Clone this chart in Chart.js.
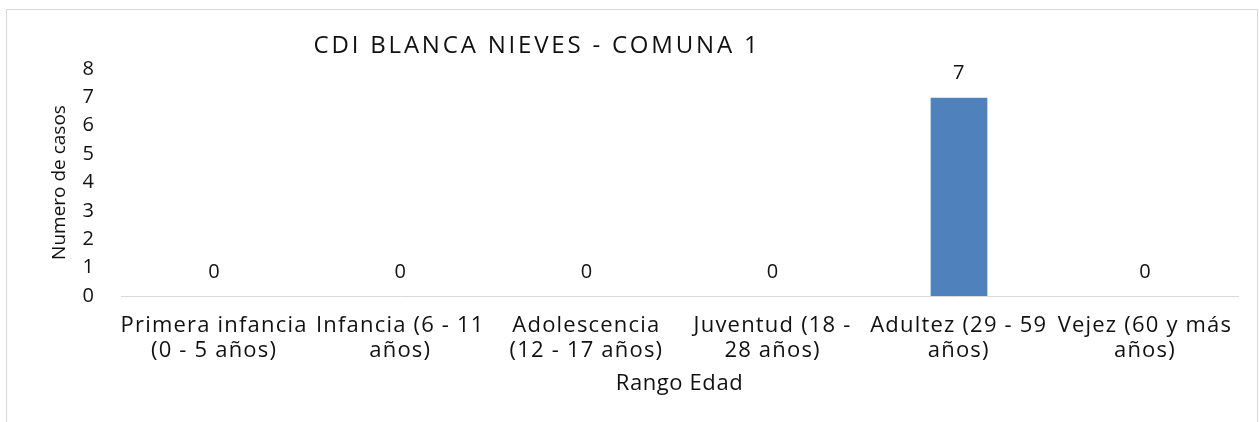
<!DOCTYPE html>
<html>
<head>
<meta charset="utf-8">
<script src="https://cdn.jsdelivr.net/npm/chart.js@4.4.0/dist/chart.umd.min.js"></script>
<style>
    html, body { margin: 0; padding: 0; background: #fff; }
    #wrap { width: 1259px; height: 422px; }
</style>
</head>
<body>
<div id="wrap"><canvas id="myChart" width="1259" height="422"></canvas></div>
<script>
var chartTitle = 'CDI BLANCA NIEVES - COMUNA 1';
var rangos = [
    ['Primera infancia', '(0 - 5 años)'],
    ['Infancia (6 - 11', 'años)'],
    ['Adolescencia', '(12 - 17 años)'],
    ['Juventud (18 -', '28 años)'],
    ['Adultez (29 - 59', 'años)'],
    ['Vejez (60 y más', 'años)']
];
var casos = [0, 0, 0, 0, 7, 0];
var yTicks = [0, 1, 2, 3, 4, 5, 6, 7, 8];

var fontName = "'Open Sans', 'DejaVu Sans', sans-serif";
var textColor = '#111111';

// excel text is wider than open sans, so spread some of the scale texts a bit
function addSpacing(scale, labelSp, titleSp) {
    if (scale._spacingDone) return;
    scale._spacingDone = true;
    var drawLabels = scale.drawLabels;
    var drawTitle = scale.drawTitle;
    scale.drawLabels = function (area) {
        this.ctx.letterSpacing = labelSp;
        drawLabels.call(this, area);
        this.ctx.letterSpacing = '0px';
    };
    scale.drawTitle = function () {
        this.ctx.letterSpacing = titleSp;
        drawTitle.call(this);
        this.ctx.letterSpacing = '0px';
    };
}

// frame around the chart + title
var framePlugin = {
    id: 'frame',
    beforeDraw: function (chart) {
        var ctx = chart.ctx;
        ctx.save();
        ctx.fillStyle = '#fff';
        ctx.fillRect(0, 0, chart.width, chart.height);
        ctx.strokeStyle = '#d9d9d9';
        ctx.lineWidth = 1;
        ctx.strokeRect(6.5, 9.5, 1251, 425);
        ctx.restore();
    },
    afterDraw: function (chart) {
        var ctx = chart.ctx;
        ctx.save();
        ctx.letterSpacing = '2.8px';
        ctx.font = '24px ' + fontName;
        ctx.fillStyle = textColor;
        ctx.textAlign = 'center';
        ctx.textBaseline = 'alphabetic';
        ctx.fillText(chartTitle, 537, 53);
        ctx.restore();
    }
};

// value labels above each bar
var valuePlugin = {
    id: 'values',
    afterDatasetsDraw: function (chart) {
        var ctx = chart.ctx;
        var meta = chart.getDatasetMeta(0);
        ctx.save();
        ctx.font = '20px ' + fontName;
        ctx.fillStyle = textColor;
        ctx.textAlign = 'center';
        ctx.textBaseline = 'middle';
        meta.data.forEach(function (bar, i) {
            ctx.fillText(String(casos[i]), bar.x, bar.y - 24);
        });
        ctx.restore();
    }
};

var ctx = document.getElementById('myChart');

var data = {
    labels: rangos,
    datasets: [{
        label: 'Numero de casos',
        data: casos,
        backgroundColor: '#4f81bd',
        borderColor: '#c9d7ea',
        borderWidth: { left: 1, right: 0, top: 0, bottom: 0 },
        barPercentage: 0.31,
        categoryPercentage: 1.0
    }]
};

var option = {
    responsive: false,
    animation: false,
    layout: {
        padding: { left: 0, right: 21, top: 69, bottom: 0 }
    },
    plugins: {
        legend: { display: false },
        title: { display: false },
        tooltip: { enabled: false }
    },
    scales: {
        x: {
            grid: { display: false },
            border: { display: true, color: '#d9d9d9', width: 1 },
            ticks: {
                color: textColor,
                font: { family: fontName, size: 22, lineHeight: '25px' },
                padding: 9,
                maxRotation: 0,
                autoSkip: false
            },
            title: {
                display: true,
                text: 'Rango Edad',
                color: textColor,
                font: { family: fontName, size: 22 },
                padding: { top: 0, bottom: 25 }
            },
            afterFit: function (scale) {
                scale.height = 126;
                addSpacing(scale, '1.2px', '0.6px');
            }
        },
        y: {
            min: 0,
            max: 8,
            grid: { display: false, drawTicks: false },
            border: { display: false },
            afterBuildTicks: function (scale) {
                scale.ticks = yTicks.map(function (v) { return { value: v }; });
            },
            ticks: {
                color: textColor,
                font: { family: fontName, size: 20 },
                padding: 27
            },
            title: {
                display: true,
                text: 'Numero de casos',
                color: textColor,
                font: { family: fontName, size: 19 },
                padding: { top: 48, bottom: 0 }
            },
            afterFit: function (scale) { scale.width = 121; }
        }
    }
};

var myChart = new Chart(ctx, {
    type: 'bar',
    data: data,
    options: option,
    plugins: [framePlugin, valuePlugin]
});
</script>
</body>
</html>
